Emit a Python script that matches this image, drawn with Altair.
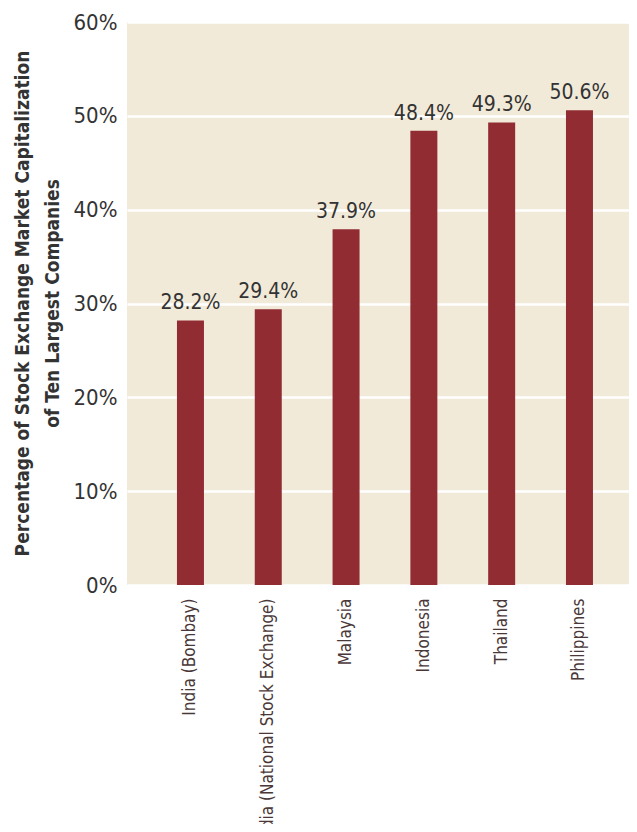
import altair as alt
import pandas as pd

categories = ["India (Bombay)", "India (National Stock Exchange)", "Malaysia",
              "Indonesia", "Thailand", "Philippines"]
values = [0.282, 0.294, 0.379, 0.484, 0.493, 0.506]
labels = ["28.2%", "29.4%", "37.9%", "48.4%", "49.3%", "50.6%"]
y_ticks = [0, 0.1, 0.2, 0.3, 0.4, 0.5, 0.6]

df = pd.DataFrame({"country": categories, "share": values, "label": labels})

FONT = "DejaVu Sans Condensed"

x = alt.X("country:N", sort=categories, title=None,
          scale=alt.Scale(paddingInner=0.653, paddingOuter=0.5526, align=0.581),
          axis=alt.Axis(labelAngle=270, labelFontSize=17, labelColor="#4a3838",
                        labelFont=FONT, labelPadding=13, ticks=False, tickSize=0,
                        domain=False, labelLimit=500))
y = alt.Y("share:Q", scale=alt.Scale(domain=[0, 0.6], nice=False),
          title=["Percentage of Stock Exchange Market Capitalization",
                 "of Ten Largest Companies"],
          axis=alt.Axis(values=y_ticks, format=".0%", labelFontSize=22,
                        labelColor="#333333", labelFont=FONT, labelPadding=10,
                        ticks=False, tickSize=0, domain=False,
                        grid=True, gridColor="#ffffff", gridWidth=2.5,
                        titleFont=FONT, titleFontSize=19, titleFontWeight="bold",
                        titleColor="#333333", titleAngle=270, titleX=-105,
                        titleY=281, titleBaseline="middle", titleAlign="center",
                        titleLineHeight=30))

bars = alt.Chart(df).mark_bar(color="#922c33").encode(x=x, y=y)
text = alt.Chart(df).mark_text(baseline="alphabetic", dy=-11, fontSize=21,
                               font=FONT, color="#333333").encode(
    x=alt.X("country:N", sort=categories), y="share:Q", text="label:N")

chart = (bars + text).properties(
    width=502, height=563,
    autosize=alt.AutoSizeParams(type="none"),
    padding={"left": 119, "top": 14, "right": 0, "bottom": 239},
).configure_view(fill="#f2ead9", stroke=None)

chart.save("out.html", embed_options={"renderer": "svg", "actions": False})
